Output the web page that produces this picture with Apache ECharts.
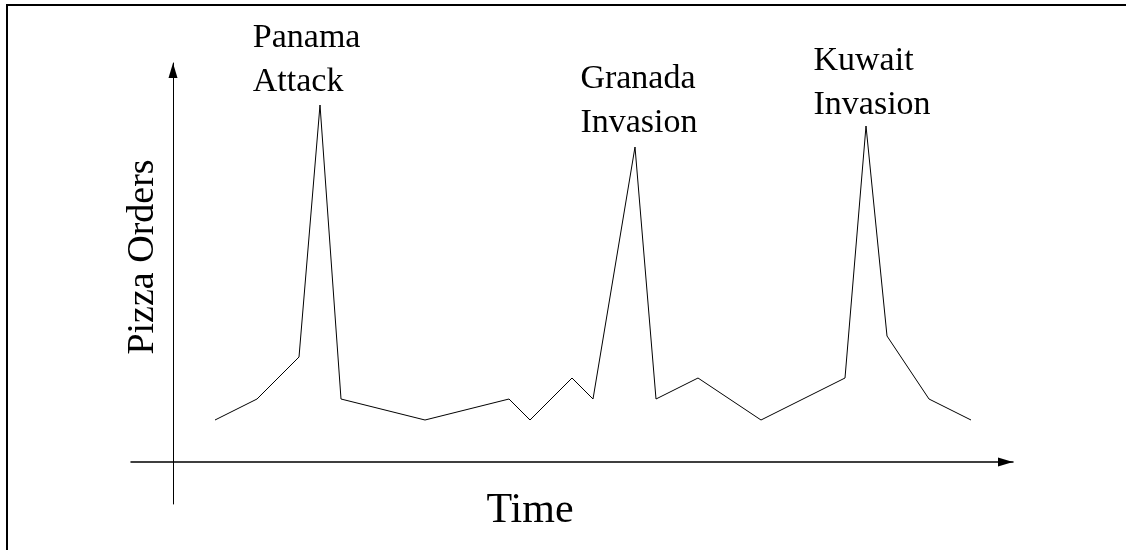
<!DOCTYPE html>
<html>
<head>
<meta charset="utf-8">
<script src="https://cdn.jsdelivr.net/npm/echarts@6/dist/echarts.min.js"></script>
<style>
html,body{margin:0;padding:0;background:#fff;}
#chart{width:1126px;height:550px;}
</style>
</head>
<body>
<div id="chart"></div>
<script>
// Time positions (arbitrary units) and pizza order levels
const timeIdx = [0, 2, 4, 5, 6, 10, 14, 15, 17, 18, 20, 21, 23, 26, 30, 31, 32, 34, 36];
const orders  = [2, 3, 5, 17, 3, 2, 3, 2, 4, 3, 15, 3, 4, 2, 4, 16, 6, 3, 2];

// Event annotations (data coordinates of label anchor)
const annotationText = ['Panama\nAttack', 'Granada\nInvasion', 'Kuwait\nInvasion'];
const annotationX = [1.8, 17.4, 28.5];
const annotationY = [19.14, 17.19, 18.04];

const xTitle = 'Time';
const yTitle = 'Pizza Orders';

const serif = '"Liberation Serif", "Times New Roman", serif';

const chart = echarts.init(document.getElementById('chart'), null, {renderer: 'canvas'});

const option = {
  animation: false,
  backgroundColor: '#ffffff',
  grid: {left: 131, top: 63, width: 882, height: 441, containLabel: false},
  xAxis: [
    {
      type: 'value', min: -4, max: 38,
      axisLine: {show: true, onZero: true, symbol: ['none', 'triangle'], symbolSize: [9, 15], symbolOffset: [0, -7.5],
                 lineStyle: {color: '#000', width: 1.5}},
      axisTick: {show: false}, axisLabel: {show: false}, splitLine: {show: false}
    },
    {
      type: 'value', min: -2, max: 40, show: false,
      axisLine: {show: false}, axisTick: {show: false}, axisLabel: {show: false}, splitLine: {show: false}
    }
  ],
  yAxis: {
    type: 'value', min: -2, max: 19,
    axisLine: {show: true, onZero: true, onZeroAxisIndex: 1, symbol: ['none', 'triangle'], symbolSize: [9, 15], symbolOffset: [0, -7.5],
               lineStyle: {color: '#000', width: 1}},
    axisTick: {show: false}, axisLabel: {show: false}, splitLine: {show: false}
  },
  series: [
    {
      type: 'line',
      xAxisIndex: 0,
      data: timeIdx.map((t, i) => [t, orders[i]]),
      showSymbol: false,
      symbol: 'none',
      lineStyle: {color: '#000', width: 1},
      silent: true
    },
    {
      type: 'scatter',
      xAxisIndex: 0,
      clip: false,
      symbolSize: 0.01,
      itemStyle: {color: 'transparent'},
      silent: true,
      emphasis: {disabled: true},
      data: annotationText.map((t, i) => ({value: [annotationX[i], annotationY[i]], name: t})),
      label: {
        show: true,
        position: [0, 0],
        align: 'left',
        verticalAlign: 'middle',
        formatter: p => p.name,
        fontFamily: serif,
        fontSize: 34,
        lineHeight: 44,
        color: '#000',
        opacity: 1
      }
    }
  ],
  graphic: [
    {type: 'rect', shape: {x: 7, y: 5, width: 1300, height: 700}, style: {fill: 'none', stroke: '#000', lineWidth: 2}, silent: true},
    {type: 'text', x: 530, y: 511, style: {text: xTitle, font: '42px ' + serif, fill: '#000', align: 'center', verticalAlign: 'middle'}, silent: true},
    {type: 'text', x: 143, y: 257, rotation: Math.PI / 2, style: {text: yTitle, font: '38px ' + serif, fill: '#000', align: 'center', verticalAlign: 'middle'}, silent: true}
  ]
};

chart.setOption(option);
</script>
</body>
</html>
